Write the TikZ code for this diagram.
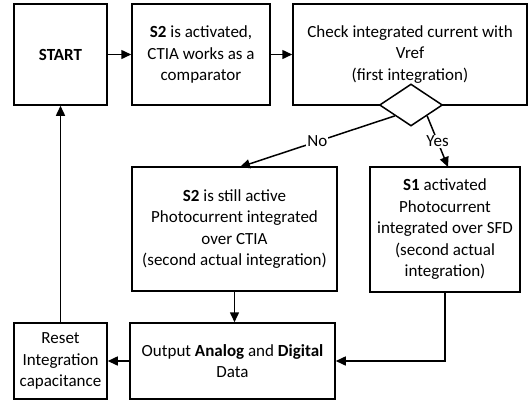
\documentclass[tikz,border=0pt]{standalone}
\usepackage{fontspec}
\setmainfont{Carlito}
\usetikzlibrary{arrows.meta,shapes.geometric}
\begin{document}
\begin{tikzpicture}[x=1pt,y=-1pt,
  box/.style={draw,line width=1.5pt,align=center,inner sep=2pt,font=\fontsize{17}{21.5}\selectfont},
  arr/.style={line width=1.5pt,-{Triangle[length=10pt,width=9pt]}},
  lbl/.style={fill=white,inner sep=1pt,font=\fontsize{17}{18}\selectfont}]
\useasboundingbox (0,0) rectangle (530,405);
\node[box,minimum width=93pt,minimum height=101pt] (start) at (60.5,54.5) {\textbf{START}};
\node[box,minimum width=138pt,minimum height=101pt] (s2) at (201,54.5) {\textbf{S2} is activated,\\CTIA works as a\\comparator};
\node[box,minimum width=234pt,minimum height=101pt] (check) at (410,54.5) {Check integrated current with\\Vref\\(first integration)};
\node[draw,line width=1.5pt,fill=white,diamond,minimum width=63pt,minimum height=42pt,inner sep=0pt] (dia) at (411,105) {};
\node[box,minimum width=205pt,minimum height=124pt] (mid) at (234.5,229) {\textbf{S2} is still active\\Photocurrent integrated\\over CTIA\\(second actual integration)};
\node[box,minimum width=150pt,minimum height=125pt] (s1) at (445,229.5) {\textbf{S1} activated\\Photocurrent\\integrated over SFD\\(second actual\\integration)};
\node[box,minimum width=205pt,minimum height=76pt] (out) at (232.5,361) {Output \textbf{Analog} and \textbf{Digital}\\Data};
\node[box,minimum width=93pt,minimum height=76pt] (reset) at (60.5,361) {Reset\\Integration\\capacitance};
\coordinate (noend) at (240,167);
\coordinate (yesend) at (448,167);
\draw[arr] (start) -- (s2);
\draw[arr] (s2) -- (check);
\draw[arr] (dia.south west) -- node[lbl] {No} (noend);
\draw[arr] (dia.south east) -- node[lbl] {Yes} (yesend);
\draw[arr] (mid.south) -- (mid.south |- out.north);
\draw[arr] (s1.south) |- (out.east);
\draw[arr] (out) -- (reset);
\draw[arr] (reset) -- (start);
\end{tikzpicture}
\end{document}
